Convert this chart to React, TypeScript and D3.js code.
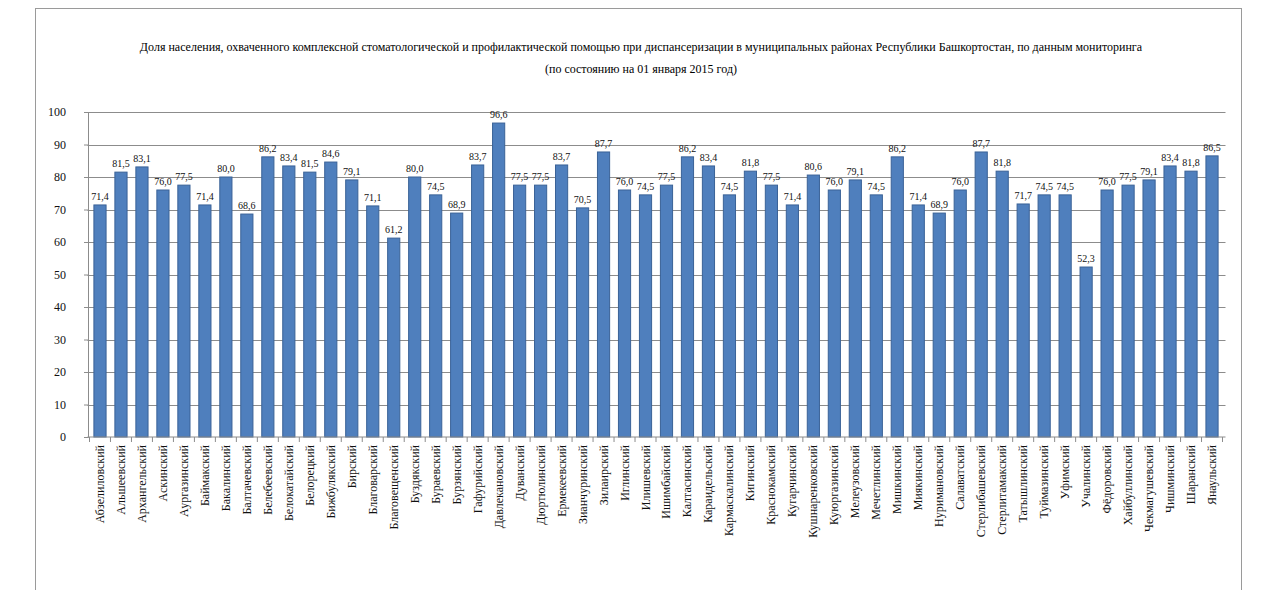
import React, { useEffect, useRef } from "react";
import * as d3 from "d3";

const titleLines = [
  "Доля населения, охваченного комплексной стоматологической и профилактической помощью при диспансеризации в муниципальных районах Республики Башкортостан, по данным мониторинга",
  "(по состоянию на 01 января 2015 год)",
];

const districts = [
  "Абзелиловский", "Альшеевский", "Архангельский", "Аскинский", "Аургазинский",
  "Баймакский", "Бакалинский", "Балтачевский", "Белебеевский", "Белокатайский",
  "Белорецкий", "Бижбулякский", "Бирский", "Благоварский", "Благовещенский",
  "Буздякский", "Бураевский", "Бурзянский", "Гафурийский", "Давлекановский",
  "Дуванский", "Дюртюлинский", "Ермекеевский", "Зианчуринский", "Зилаирский",
  "Иглинский", "Илишевский", "Ишимбайский", "Калтасинский", "Караидельский",
  "Кармаскалинский", "Кигинский", "Краснокамский", "Кугарчинский", "Кушнаренковский",
  "Куюргазинский", "Мелеузовский", "Мечетлинский", "Мишкинский", "Миякинский",
  "Нуримановский", "Салаватский", "Стерлибашевский", "Стерлитамакский", "Татышлинский",
  "Туймазинский", "Уфимский", "Учалинский", "Фёдоровский", "Хайбуллинский",
  "Чекмагушевский", "Чишминский", "Шаранский", "Янаульский",
];

const shares = [
  71.4, 81.5, 83.1, 76.0, 77.5, 71.4, 80.0, 68.6, 86.2, 83.4,
  81.5, 84.6, 79.1, 71.1, 61.2, 80.0, 74.5, 68.9, 83.7, 96.6,
  77.5, 77.5, 83.7, 70.5, 87.7, 76.0, 74.5, 77.5, 86.2, 83.4,
  74.5, 81.8, 77.5, 71.4, 80.6, 76.0, 79.1, 74.5, 86.2, 71.4,
  68.9, 76.0, 87.7, 81.8, 71.7, 74.5, 74.5, 52.3, 76.0, 77.5,
  79.1, 83.4, 81.8, 86.5,
];

const yTicks = [0, 10, 20, 30, 40, 50, 60, 70, 80, 90, 100];

function App() {
  const ref = useRef<SVGSVGElement>(null);

  useEffect(() => {
    const width = 1272;
    const height = 590;
    const margin = { top: 112, left: 89.5, right: 49.5, bottom: 153 };

    const svg = d3.select(ref.current);
    svg.selectAll("*").remove();

    const data = districts.map((name, i) => ({ name, value: shares[i] }));

    const x = d3.scaleBand()
      .domain(districts)
      .range([margin.left, width - margin.right])
      .paddingInner(0.42)
      .paddingOuter(0.21);

    const y = d3.scaleLinear()
      .domain([0, 100])
      .range([height - margin.bottom, margin.top]);

    // рамка диаграммы
    svg.append("rect")
      .attr("x", 35.5).attr("y", 8.5)
      .attr("width", 1206).attr("height", 600)
      .attr("fill", "#fff")
      .attr("stroke", "#9a9a9a");

    // заголовок
    svg.append("g")
      .selectAll("text")
      .data(titleLines)
      .enter()
      .append("text")
      .attr("x", 641)
      .attr("y", (d, i) => 51 + i * 22)
      .attr("text-anchor", "middle")
      .attr("font-family", "'Liberation Serif', 'Times New Roman', serif")
      .attr("font-size", 12)
      .attr("fill", "#000")
      .text(d => d);

    // сетка
    svg.append("g")
      .selectAll("line")
      .data(yTicks.filter(t => t > 0))
      .enter()
      .append("line")
      .attr("x1", margin.left - 2)
      .attr("x2", width - margin.right + 3)
      .attr("y1", d => Math.round(y(d)) + 0.5)
      .attr("y2", d => Math.round(y(d)) + 0.5)
      .attr("stroke", "#8c8c8c")
      .attr("stroke-width", 1);

    // ось Y
    const yAxis = g => g
      .attr("transform", `translate(${margin.left - 1.5}, 0)`)
      .call(d3.axisLeft(y).tickValues(yTicks).tickSize(4).tickPadding(18))
      .call(g => g.selectAll("line, path").attr("stroke", "#8c8c8c"))
      .call(g => g.selectAll("text")
        .attr("font-family", "'Liberation Serif', 'Times New Roman', serif")
        .attr("font-size", 12)
        .attr("fill", "#111"));
    svg.append("g").call(yAxis);

    // столбцы
    svg.append("g")
      .selectAll("rect")
      .data(data)
      .enter()
      .append("rect")
      .attr("x", d => x(d.name))
      .attr("y", d => y(d.value))
      .attr("width", x.bandwidth())
      .attr("height", d => y(0) - y(d.value))
      .attr("fill", "#4f7fbd")
      .attr("stroke", "#3a6297")
      .attr("stroke-width", 1);

    // подписи значений
    svg.append("g")
      .selectAll("text")
      .data(data)
      .enter()
      .append("text")
      .attr("x", d => x(d.name) + x.bandwidth() / 2)
      .attr("y", d => y(d.value) - 5)
      .attr("text-anchor", "middle")
      .attr("font-family", "'Liberation Serif', 'Times New Roman', serif")
      .attr("font-size", 10)
      .attr("fill", "#111")
      .text(d => d.value.toFixed(1).replace(".", ","));

    // ось X
    const step = x.step();
    const xAxis = g => g
      .attr("transform", `translate(0, ${y(0)})`)
      .call(g => g.append("line")
        .attr("x1", margin.left - 2).attr("x2", width - margin.right + 3)
        .attr("stroke", "#8c8c8c"))
      .call(g => g.selectAll("line.tick")
        .data(d3.range(districts.length + 1))
        .enter()
        .append("line")
        .attr("class", "tick")
        .attr("x1", i => margin.left + i * step)
        .attr("x2", i => margin.left + i * step)
        .attr("y1", 0).attr("y2", 5)
        .attr("stroke", "#8c8c8c"))
      .call(g => g.selectAll("text")
        .data(districts)
        .enter()
        .append("text")
        .attr("transform", d => `translate(${x(d) + x.bandwidth() / 2 + 4}, 8) rotate(-90)`)
        .attr("text-anchor", "end")
        .attr("font-family", "'Liberation Serif', 'Times New Roman', serif")
        .attr("font-size", 12)
        .attr("fill", "#111")
        .text(d => d));
    svg.append("g").call(xAxis);
  }, []);

  return (
    <svg
      ref={ref}
      width={1272}
      height={590}
      style={{ position: "absolute", left: 0, top: 0, background: "#fff" }}
    />
  );
}

export default App;
